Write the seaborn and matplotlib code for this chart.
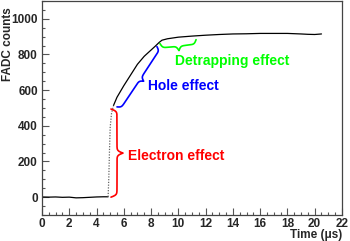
import matplotlib
matplotlib.use("Agg")
import matplotlib.pyplot as plt
import numpy as np
import pandas as pd
import seaborn as sns

# signal: baseline, fast rise (dotted), slow rise + plateau
t_base = [0, 0.5, 1, 1.5, 2, 2.5, 3, 3.5, 4, 4.5, 4.85]
v_base = [1, 0, 1, -1, 0, -4, -3, -1, 1, 2, 2]
t_fast = [4.85, 4.9, 4.95, 5.0, 5.1, 5.25]
v_fast = [2, 110, 260, 390, 470, 515]
t_slow = [5.25, 5.5, 6, 6.5, 7, 7.5, 8, 8.3, 8.6, 8.8, 9.2, 10, 11, 12,
          13, 14, 15, 16, 17, 18, 19, 19.5, 20, 20.5]
v_slow = [515, 560, 625, 685, 745, 790, 825, 846, 868, 880, 888, 897, 903, 908,
          912, 915, 916, 918, 918, 918, 915, 913, 912, 915]

# braces: (start, end) in data units
brace_electron = [(5.06, 0), (5.06, 494)]
brace_hole = [(5.5, 506), (8.43, 844)]
brace_detrap = [(8.65, 861), (11.3, 883)]
labels = ["Electron effect", "Hole effect", "Detrapping effect"]
label_pos = [(6.3, 233), (7.77, 622), (9.75, 761)]
colors = ["#ff0000", "#0000ff", "#00ff00"]

sns.set_style("ticks")
plt.rcParams["font.family"] = ["Liberation Sans", "DejaVu Sans"]
plt.rcParams["font.weight"] = "bold"

fig, ax = plt.subplots(figsize=(3.5, 2.41), dpi=100)
fig.subplots_adjust(left=0.12, right=0.977, bottom=0.108, top=0.996)

base = pd.DataFrame({"t": t_base, "v": v_base})
fast = pd.DataFrame({"t": t_fast, "v": v_fast})
slow = pd.DataFrame({"t": t_slow, "v": v_slow})
sns.lineplot(data=base, x="t", y="v", color="black", lw=0.9, ax=ax, sort=False)
sns.lineplot(data=fast, x="t", y="v", color="#666666", lw=0.9, ls=(0, (1, 1.2)),
             ax=ax, sort=False)
sns.lineplot(data=slow, x="t", y="v", color="black", lw=0.9, ax=ax, sort=False)

ax.set_xlim(0, 22)
ax.set_ylim(-100, 1100)
ax.set_xticks(np.arange(0, 23, 2))
ax.set_xticks(np.arange(0, 22.01, 0.5), minor=True)
ax.set_yticks([0, 200, 400, 600, 800, 1000])
ax.set_yticks(np.arange(-100, 1101, 50), minor=True)
ax.tick_params(which="both", direction="in", color="#555555", width=0.8,
               labelsize=8.5)
ax.tick_params(which="major", length=5)
ax.tick_params(which="minor", length=2.5)
ax.tick_params(axis="x", pad=2)
ax.tick_params(axis="y", pad=3)
for s in ax.spines.values():
    s.set_visible(True)
    s.set_color("#444444")
    s.set_linewidth(0.9)

ax.set_xlabel("Time (\u03bcs)", fontsize=8.5, fontweight="bold",
              ha="right", va="top")
ax.xaxis.set_label_coords(1.0, -0.066)
ax.set_ylabel("FADC counts", fontsize=8.5, fontweight="bold",
              ha="right", va="center")
ax.yaxis.set_label_coords(-0.115, 0.972)


def brace(p0, p1, w, color):
    a = ax.transData.transform(p0)
    b = ax.transData.transform(p1)
    d = b - a
    L = np.hypot(*d)
    u = d / L
    n = np.array([u[1], -u[0]])
    s = np.linspace(0, L / 2, 100)
    beta = 0.9
    f = 1 / (1 + np.exp(-beta * s)) + 1 / (1 + np.exp(-beta * (s - L / 2)))
    off = w * (f - 0.5)
    s_all = np.concatenate([s, L - s[-2::-1]])
    off_all = np.concatenate([off, off[-2::-1]])
    pts = a + np.outer(s_all, u) + np.outer(off_all, n)
    dat = ax.transData.inverted().transform(pts)
    ax.plot(dat[:, 0], dat[:, 1], color=color, lw=1.2, solid_capstyle="round")


brace(*brace_electron, 12, colors[0])
brace(*brace_hole, 8, colors[1])
brace(*brace_detrap, 9, colors[2])

for txt, (x, y), c in zip(labels, label_pos, colors):
    ax.text(x, y, txt, color=c, fontsize=10, fontweight="bold",
            ha="left", va="center")

fig.savefig("out.png", dpi=100)
